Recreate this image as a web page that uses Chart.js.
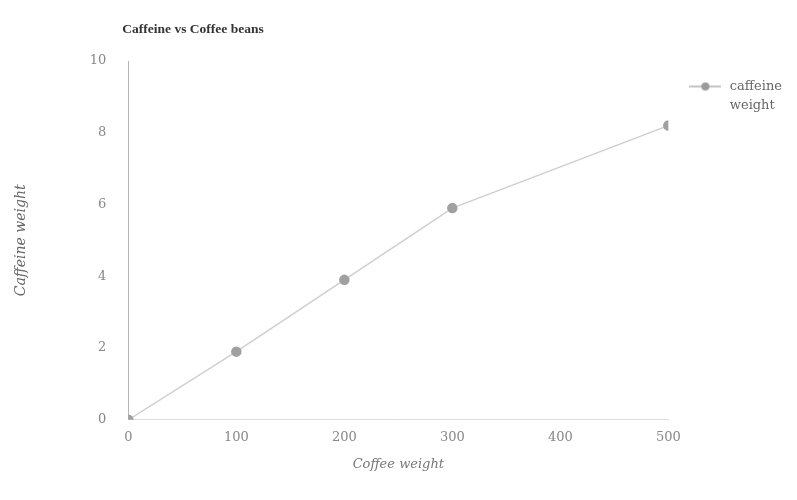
<!DOCTYPE html>
<html><head><meta charset="utf-8">
<script src="https://cdn.jsdelivr.net/npm/chart.js@4.4.1/dist/chart.umd.min.js"></script>
<style>html,body{margin:0;padding:0;background:#fff}#wrap{width:797px;height:500px}</style>
</head><body><div id="wrap"><canvas id="c" width="797" height="500"></canvas></div>
<script>
const coffeeWeight = [0, 100, 200, 300, 500];
const caffeineWeight = [0, 1.9, 3.9, 5.9, 8.2];
const xTicks = [0, 100, 200, 300, 400, 500];
const yTicks = [0, 2, 4, 6, 8, 10];
const chartTitle = 'Caffeine vs Coffee beans';
const seriesName = ['caffeine', 'weight'];

const SERIF = "'Liberation Serif', 'DejaVu Serif', serif";
const WIDE = "'DejaVu Serif', 'Liberation Serif', serif";

// legend icon: line with a dot
const icon = document.createElement('canvas');
icon.width = 32; icon.height = 12;
(function(){const g = icon.getContext('2d');
g.strokeStyle = '#b0b0b0'; g.lineWidth = 1.5;
g.beginPath(); g.moveTo(0,6); g.lineTo(32,6); g.stroke();
g.fillStyle = '#9a9a9a'; g.beginPath(); g.arc(16,6,4,0,Math.PI*2); g.fill();})();

const titlePlugin = {
  id: 'leftTitle',
  afterDraw(chart) {
    const ctx = chart.ctx;
    ctx.save();
    ctx.font = "bold 13.5px " + SERIF;
    ctx.fillStyle = '#333';
    ctx.textBaseline = 'middle';
    ctx.textAlign = 'left';
    ctx.fillText(chartTitle, chart.chartArea.left - 6, 30);
    ctx.restore();
  }
};

new Chart(document.getElementById('c'), {
  type: 'line',
  data: {
    datasets: [{
      label: seriesName.join(' '),
      data: coffeeWeight.map((x, i) => ({x, y: caffeineWeight[i]})),
      borderColor: '#cfcfcf',
      borderWidth: 1.5,
      pointBackgroundColor: '#a0a0a0',
      pointBorderColor: '#a0a0a0',
      pointRadius: 4.5,
      tension: 0,
      fill: false
    }]
  },
  options: {
    responsive: false,
    animation: false,
    layout: { padding: { left: 9, right: 5, top: 61, bottom: 24 } },
    plugins: {
      title: { display: false },
      tooltip: { enabled: false },
      legend: {
        position: 'right',
        align: 'start',
        labels: {
          usePointStyle: true,
          pointStyleWidth: 36,
          color: '#666',
          font: { family: WIDE, size: 13, lineHeight: 1.5 },
          padding: 19,
          generateLabels: (chart) => [{
            text: seriesName,
            fillStyle: '#a0a0a0',
            strokeStyle: '#a0a0a0',
            fontColor: '#666',
            pointStyle: icon,
            datasetIndex: 0,
            hidden: false
          }]
        }
      }
    },
    scales: {
      x: {
        type: 'linear',
        min: 0, max: 500,
        afterBuildTicks: (s) => { s.ticks = xTicks.map(v => ({value: v})); },
        grid: { display: false, drawTicks: false },
        border: { display: true, color: '#dddddd', width: 1 },
        ticks: { color: '#888', font: { family: WIDE, size: 13 }, padding: 10 },
        title: { display: true, text: 'Coffee weight', color: '#777',
                 font: { family: WIDE, size: 13, style: 'italic' }, padding: { top: 1 } }
      },
      y: {
        min: 0, max: 10,
        afterBuildTicks: (s) => { s.ticks = yTicks.map(v => ({value: v})); },
        grid: { display: false, drawTicks: false },
        border: { display: true, color: '#b5b5b5', width: 1 },
        ticks: { color: '#888', font: { family: WIDE, size: 13 }, padding: 22 },
        title: { display: true, text: 'Caffeine weight', color: '#666',
                 font: { family: WIDE, size: 14, style: 'italic' }, padding: { bottom: 38 } }
      }
    }
  },
  plugins: [titlePlugin]
});
</script></body></html>
